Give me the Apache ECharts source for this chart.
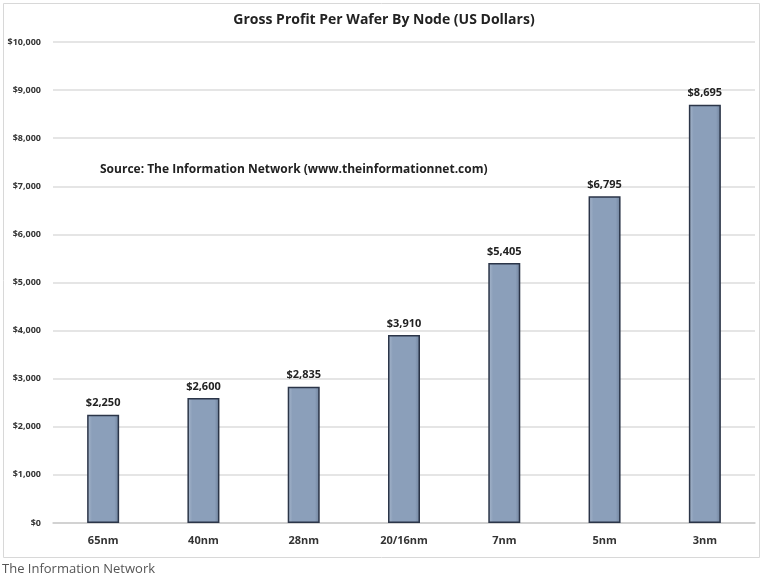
<!DOCTYPE html>
<html>
<head>
<meta charset="utf-8">
<script src="https://cdn.jsdelivr.net/npm/echarts@6/dist/echarts.min.js"></script>
<style>
  html, body { margin: 0; padding: 0; background: #fff; }
  #main { width: 768px; height: 585px; }
</style>
</head>
<body>
<div id="main"></div>
<script>
var nodes = ['65nm', '40nm', '28nm', '20/16nm', '7nm', '5nm', '3nm'];
var profit = [2250, 2600, 2835, 3910, 5405, 6795, 8695];

var chart = echarts.init(document.getElementById('main'));

var option = {
    backgroundColor: '#fff',
    animation: false,
    title: {
        text: 'Gross Profit Per Wafer By Node (US Dollars)',
        left: 'center',
        top: 8,
        textStyle: { fontFamily: 'Open Sans', fontSize: 14, fontWeight: 'bold', color: '#222' }
    },
    grid: { left: 53, right: 13, top: 42, bottom: 62 },
    graphic: [
        {
            type: 'rect', left: 1, top: 1,
            shape: { width: 756, height: 554 },
            style: { fill: 'none', stroke: '#d8d8d8', lineWidth: 1 }
        },
        {
            type: 'text', left: 100, top: 164,
            style: { text: 'Source: The Information Network (www.theinformationnet.com)', font: 'bold 12px "Open Sans"', fill: '#222' }
        },
        {
            type: 'text', left: 2, top: 563,
            style: { text: 'The Information Network', font: '13px "Open Sans"', fill: '#555' }
        }
    ],
    xAxis: {
        type: 'category',
        data: nodes,
        axisLine: { lineStyle: { color: '#ccc', width: 1.5 } },
        axisTick: { show: false },
        axisLabel: { color: '#333', fontFamily: 'Open Sans', fontWeight: 'bold', fontSize: 11, margin: 12 }
    },
    yAxis: {
        type: 'value',
        min: 0, max: 10000, interval: 1000,
        axisLine: { show: false },
        axisTick: { show: false },
        splitLine: { lineStyle: { color: '#ddd', width: 1.5 } },
        axisLabel: {
            color: '#333', fontFamily: 'Open Sans', fontWeight: 'bold', fontSize: 9, margin: 12,
            formatter: function (v) { return '$' + v.toLocaleString('en-US'); }
        }
    },
    series: [{
        type: 'bar',
        data: profit,
        barWidth: 32,
        itemStyle: {
            color: new echarts.graphic.LinearGradient(0, 0, 1, 0, [
                { offset: 0, color: '#a9b8cd' },
                { offset: 0.15, color: '#8b9fba' },
                { offset: 0.85, color: '#8b9fba' },
                { offset: 1, color: '#6f819b' }
            ]),
            borderColor: '#2b3548',
            borderWidth: 1.5
        },
        label: {
            show: true, position: 'top', distance: 6,
            color: '#222', fontFamily: 'Open Sans', fontWeight: 'bold', fontSize: 11,
            formatter: function (p) { return '$' + p.value.toLocaleString('en-US'); }
        }
    }]
};
chart.setOption(option);
</script>
</body>
</html>
